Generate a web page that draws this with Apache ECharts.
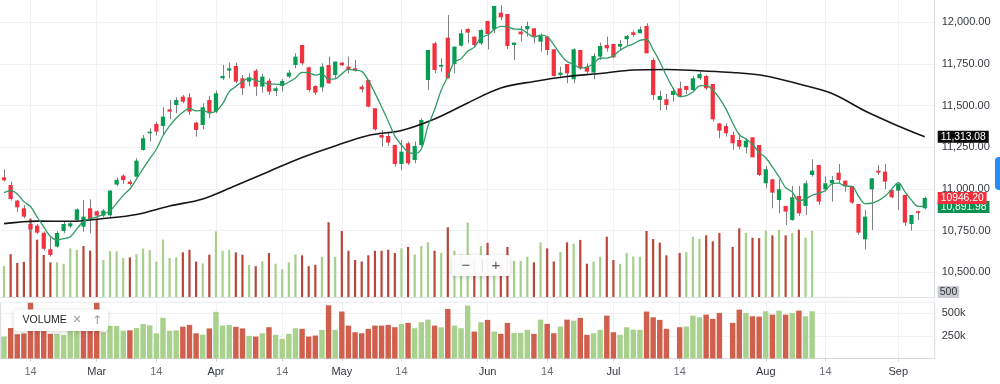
<!DOCTYPE html>
<html><head><meta charset="utf-8">
<script src="https://cdn.jsdelivr.net/npm/echarts@6/dist/echarts.min.js"></script>
<style>html,body{margin:0;padding:0;background:#fff}#c{width:1000px;height:384px}</style>
</head><body><div id="c"></div>
<script>
// ---- data ----
const opens = [11070,11024,10930,10884,10790,10780,10737,10638,10654,10748,
10776,10814,10774,10884,10866,10840,10842,11026,11080,11044,
11074,11234,11334,11390,11378,11478,11504,11554,11550,11398,
11384,11534,11464,11664,11710,11738,11664,11644,11710,11614,
11650,11588,11618,11674,11744,11864,11730,11618,11610,11744,
11684,11758,11734,11724,11614,11654,11484,11324,11318,11264,
11150,11274,11174,11264,11654,11874,11734,11908,11750,11860,
11960,11914,11874,12008,11958,12058,12050,11864,11944,11958,
11964,11884,11914,11838,11684,11750,11658,11834,11734,11698,
11794,11864,11870,11854,11898,11940,11934,11978,11774,11534,
11538,11564,11604,11618,11594,11664,11678,11630,11394,11378,
11324,11294,11250,11310,11264,11034,11058,10934,10898,10814,
10958,10898,11084,11144,10998,11034,11098,11050,11018,10910,
10698,10998,11110,11104,10994,10990,10964,10790,10866,10884];
const closes = [11052,10940,10890,10834,10757,10738,10641,10604,10736,10790,
10794,10878,10834,10814,10840,10870,10990,11055,11053,11030,
11170,11304,11344,11344,11434,11464,11534,11524,11464,11354,
11490,11454,11574,11678,11724,11644,11604,11670,11614,11674,
11584,11604,11648,11698,11794,11754,11594,11578,11734,11634,
11764,11742,11714,11710,11598,11494,11358,11308,11278,11150,
11224,11154,11258,11414,11834,11714,11744,11664,11854,11934,
11938,11864,11954,11930,12098,12030,11858,11878,11928,11978,
11914,11918,11834,11678,11698,11694,11838,11724,11704,11798,
11858,11844,11790,11870,11918,11924,11958,11814,11564,11558,
11504,11588,11558,11594,11664,11690,11604,11418,11350,11334,
11274,11254,11290,11190,11084,11118,10978,10998,10864,10950,
10854,11034,11110,10924,11034,11054,11054,11018,10918,10738,
10834,11064,11098,11044,10950,11030,10798,10844,10856,10946.20];
const lows = [11045,10930,10862,10824,10745,10730,10630,10594,10648,10734,
10764,10804,10744,10734,10826,10830,10830,11018,11030,11020,
11070,11230,11284,11320,11324,11418,11454,11514,11444,11314,
11358,11424,11454,11654,11664,11634,11564,11614,11558,11578,
11564,11558,11584,11664,11724,11744,11584,11564,11584,11630,
11664,11738,11694,11704,11578,11490,11350,11254,11258,11134,
11114,11144,11154,11254,11594,11694,11704,11664,11694,11854,
11874,11854,11864,11838,11934,12014,11840,11774,11884,11914,
11874,11824,11804,11674,11664,11634,11634,11714,11694,11658,
11774,11824,11784,11834,11864,11914,11934,11814,11534,11470,
11474,11524,11550,11570,11584,11654,11594,11404,11304,11314,
11234,11238,11214,11190,11078,11004,10884,10854,10784,10810,
10838,10844,11074,10904,10984,10924,11034,10984,10910,10724,
10638,10754,11084,10998,10944,10874,10778,10750,10814,10878];
const highs = [11118,11044,10935,10904,10800,10790,10745,10714,10748,10804,
10804,10884,10934,10938,10872,10880,10994,11070,11088,11055,
11184,11324,11364,11404,11490,11534,11550,11564,11574,11404,
11514,11558,11590,11744,11758,11758,11684,11694,11720,11690,
11664,11614,11660,11714,11814,11864,11734,11622,11754,11794,
11764,11762,11794,11774,11624,11654,11484,11354,11344,11264,
11294,11284,11284,11424,11834,11884,11784,12044,11854,11958,
11964,11914,11958,12008,12098,12104,12050,11878,11978,12004,
11964,11934,11918,11838,11734,11750,11844,11834,11754,11814,
11878,11914,11870,11894,11924,11950,11974,11994,11784,11590,
11570,11604,11644,11618,11678,11704,11684,11630,11394,11394,
11344,11334,11304,11310,11264,11138,11058,11058,10898,11018,
11018,11050,11178,11144,11074,11078,11150,11050,11018,10910,
10874,11064,11144,11150,10994,11030,10964,10844,10870,10954];
const volumes = [242000,336000,268000,276000,615000,450000,330000,272000,272000,260000,
382000,369000,400000,364000,615000,290000,360000,358000,306000,311000,
336000,380000,367000,278000,450000,306000,311000,351000,371000,278000,
263000,332000,515000,363000,370000,350000,332000,250000,242000,279000,
345000,261000,217000,272000,334000,327000,242000,253000,316000,587000,
316000,518000,363000,290000,279000,327000,363000,363000,371000,345000,
382000,393000,334000,400000,429000,363000,345000,547000,363000,334000,
584000,297000,400000,426000,297000,272000,393000,283000,283000,316000,
272000,429000,382000,279000,352000,429000,418000,448000,261000,279000,
316000,473000,290000,261000,345000,319000,316000,518000,455000,426000,
327000,null,345000,352000,473000,455000,484000,437000,503000,null,
393000,539000,503000,466000,462000,521000,484000,528000,484000,503000,
528000,466000,521000];
const volumeDir = "uddddddduu"+"uuddduuuud"+"uuuuuuuddd"+"uduuuddudu"+"duuuudddud"+
  "uddddddddd"+"uduuududuu"+"udududduuu"+"duddududdu"+"udduuuuddd"+
  "d-duuuddd-"+"dduddududu"+"duu";
// short moving average (5 closes); first points
const maShortHead = [10978, 10990, 10970, 10924];
// long moving average at these candle indices
const maLongIdx = [0,5,10,15,20,25,30,35,40,45,50,55,60,65,70,75,80,85,90,95,100,105,110,115,120,125,130,135,139];
const maLongVal = [10792,10807,10806,10823,10847,10898,10940,11021,11105,11189,11258,11321,11351,11420,11516,11606,11645,11675,11693,11714,11717,11709,11699,11678,11630,11573,11468,11378,11313.08];
const tickLabels = [[4,'14'],[14,'Mar'],[23,'14'],[32,'Apr'],[42,'14'],[51,'May'],[60,'14'],[73,'Jun'],[82,'14'],[92,'Jul'],[102,'14'],[115,'Aug'],[124,'14'],[135,'Sep']];
const priceTicks = [10500, 12250, 250]; // min, max, step
const lastMaShort = 10891.98;

// ---- derived ----
const N = opens.length;
const categories = Array.from({length: N + 1}, (_, i) => String(i));
const tickSet = new Set(tickLabels.map(t => t[0]));
const tickText = Object.fromEntries(tickLabels);
const maShort = closes.map((c, i) => i < 4 ? maShortHead[i] :
  +(closes.slice(i - 4, i + 1).reduce((a, b) => a + b, 0) / 5).toFixed(2));

const RED = '#f2323f', GREEN = '#089c52', WICK = '#808080';
const VRED = '#cf604e', VGREEN = '#a9d18e', ORED = '#b8473a', OGREEN = '#a6cf8b';
const FONT = 'Liberation Sans, Arial, Helvetica, sans-serif';
const GRIDC = '#eff1f3';

const candleData = opens.map((o, i) => [i, o, closes[i], lows[i], highs[i]]);
const volBottom = volumes.map((v, i) => v == null ? null :
  {value: v, itemStyle: {color: volumeDir[i] === 'u' ? VGREEN : VRED}});
const volOverlay = volumes.map((v, i) => v == null ? null :
  {value: v, itemStyle: {color: volumeDir[i] === 'u' ? OGREEN : ORED}});

const L = 0.69, W = (N + 1) * 6.624, R = 1000 - L - W;
const showTick = (idx) => tickSet.has(idx);

const chart = echarts.init(document.getElementById('c'), null, {renderer: 'canvas'});
const option = {
  animation: false,
  backgroundColor: '#fff',
  textStyle: {fontFamily: FONT},
  grid: [
    {left: L, width: W, top: -19.37, height: 291.67, outerBoundsMode: 'none'},
    {left: L, width: W, top: 0, height: 297, outerBoundsMode: 'none'},
    {left: L, width: W, top: 302.3, height: 56.2, outerBoundsMode: 'none', show: true, borderColor: '#d6dae0', borderWidth: 1}
  ],
  xAxis: [
    {type: 'category', gridIndex: 0, data: categories, boundaryGap: true, show: false},
    {type: 'category', gridIndex: 1, data: categories, boundaryGap: true,
      axisLine: {show: true, lineStyle: {color: '#dde1e6'}}, axisTick: {show: false}, axisLabel: {show: false},
      splitLine: {show: true, interval: showTick, alignWithLabel: true, lineStyle: {color: GRIDC}}},
    {type: 'category', gridIndex: 2, data: categories, boundaryGap: true,
      axisLine: {show: true, lineStyle: {color: '#d6dae0'}},
      axisTick: {show: true, interval: showTick, alignWithLabel: true, length: 3, lineStyle: {color: '#cfd3d8'}},
      axisLabel: {show: true, interval: showTick, margin: 8, fontSize: 11, fontFamily: FONT,
        formatter: (v, i) => {const t = tickText[i]; if (!t) return ''; return /\d/.test(t) ? '{d|' + t + '}' : '{m|' + t + '}';},
        rich: {d: {color: '#6b6f75', fontSize: 11, fontFamily: FONT}, m: {color: '#33373c', fontSize: 11, fontFamily: FONT}}},
      splitLine: {show: true, interval: showTick, alignWithLabel: true, lineStyle: {color: GRIDC}}}
  ],
  yAxis: [
    {type: 'value', gridIndex: 0, position: 'right', min: priceTicks[0], max: priceTicks[1], interval: priceTicks[2],
      axisLine: {show: false}, axisTick: {show: false}, showMaxLabel: false,
      axisLabel: {margin: 7, fontSize: 11, color: '#33373c', fontFamily: FONT,
        formatter: v => v >= priceTicks[1] ? '' : v.toLocaleString('en-US', {minimumFractionDigits: 2, maximumFractionDigits: 2})},
      splitLine: {show: true, lineStyle: {color: GRIDC}}},
    {type: 'value', gridIndex: 1, position: 'right', min: 0, max: 2331000,
      axisLine: {show: true, lineStyle: {color: '#d6dae0'}}, axisTick: {show: false}, axisLabel: {show: false}, splitLine: {show: false}},
    {type: 'value', gridIndex: 2, position: 'right', min: 0, max: 620000, interval: 250000,
      axisLine: {show: false}, axisTick: {show: false}, showMaxLabel: false,
      axisLabel: {margin: 7, fontSize: 11, color: '#33373c', fontFamily: FONT,
        formatter: v => (v === 250000 ? '250k' : v === 500000 ? '500k' : '')},
      splitLine: {show: true, lineStyle: {color: GRIDC}}}
  ],
  series: [
    {name: 'vol-overlay', type: 'bar', xAxisIndex: 1, yAxisIndex: 1, data: volOverlay, barWidth: 2.2, z: 1, silent: true},
    {name: 'price', type: 'custom', xAxisIndex: 0, yAxisIndex: 0, data: candleData, z: 3,
      encode: {x: 0, y: [1, 2, 3, 4]},
      renderItem: (params, api) => {
        const i = api.value(0), o = api.value(1), c = api.value(2), lo = api.value(3), hi = api.value(4);
        const pTop = api.coord([i, Math.max(o, c)]);
        const pBot = api.coord([i, Math.min(o, c)]);
        const pHi = api.coord([i, hi]);
        const pLo = api.coord([i, lo]);
        const bw = api.size([1, 0])[0] * 0.64;
        const xc = Math.round(pTop[0]) + 0.5;
        return {type: 'group', children: [
          {type: 'line', shape: {x1: xc, y1: pHi[1], x2: xc, y2: pLo[1]}, style: {stroke: WICK, lineWidth: 1}},
          {type: 'rect', shape: {x: pTop[0] - bw / 2, y: pTop[1], width: bw, height: Math.max(1.2, pBot[1] - pTop[1])},
            style: {fill: c >= o ? GREEN : RED}}
        ]};
      }},
    {name: 'ma-long', type: 'line', xAxisIndex: 0, yAxisIndex: 0, data: maLongIdx.map((ix, k) => [ix, maLongVal[k]]),
      smooth: 0.35, showSymbol: false, lineStyle: {color: '#161616', width: 1.6}, z: 4},
    {name: 'ma-short', type: 'line', xAxisIndex: 0, yAxisIndex: 0, data: maShort,
      smooth: 0.35, showSymbol: false, lineStyle: {color: '#2f9c66', width: 1.3}, z: 5},
    {name: 'volume', type: 'bar', xAxisIndex: 2, yAxisIndex: 2, data: volBottom, barWidth: '82%', z: 2}
  ]
};
chart.setOption(option);

const yOf = v => chart.convertToPixel({yAxisIndex: 0}, v);
const tag = (val, txt, bg, z) => ({type: 'text', x: 937.7, y: yOf(val), z: z,
  style: {text: txt, fill: '#fff', font: '10.3px ' + FONT, backgroundColor: bg, padding: [1, 3, 0, 3],
    lineHeight: 11, align: 'left', verticalAlign: 'middle'}});
chart.setOption({graphic: [
  tag(maLongVal[maLongVal.length - 1], maLongVal[maLongVal.length - 1].toLocaleString('en-US', {minimumFractionDigits: 2}), '#0b0b0b', 50),
  tag(lastMaShort, lastMaShort.toLocaleString('en-US', {minimumFractionDigits: 2}), '#0b9150', 51),
  tag(closes[N - 1], closes[N - 1].toFixed(2), '#f0303c', 52),
  {type: 'text', x: 937.7, y: 292, z: 50,
    style: {text: '500', fill: '#333', font: '10.5px ' + FONT, backgroundColor: '#c7cbd1', padding: [1, 2, 0, 2],
      lineHeight: 11, verticalAlign: 'middle', align: 'left'}},
  {type: 'rect', z: 50, shape: {x: 995, y: 157, width: 12, height: 33, r: 4}, style: {fill: '#2a8bf2'}},
  {type: 'group', z: 60, children: [
    {type: 'rect', z: 60, shape: {x: 452, y: 255, width: 58, height: 21, r: 3},
      style: {fill: 'rgba(255,255,255,0.95)', shadowBlur: 5, shadowColor: 'rgba(0,0,0,0.18)', shadowOffsetY: 1}},
    {type: 'line', z: 61, shape: {x1: 482.5, y1: 259, x2: 482.5, y2: 272}, style: {stroke: '#e2e4e8', lineWidth: 1}},
    {type: 'text', z: 61, x: 466, y: 265.5, style: {text: '\u2212', fill: '#555', font: '15px ' + FONT, align: 'center', verticalAlign: 'middle'}},
    {type: 'text', z: 61, x: 496, y: 265.5, style: {text: '+', fill: '#555', font: '15px ' + FONT, align: 'center', verticalAlign: 'middle'}}
  ]},
  {type: 'group', z: 60, children: [
    {type: 'rect', z: 60, shape: {x: 14, y: 309.5, width: 94, height: 21.5, r: 3},
      style: {fill: '#fff', shadowBlur: 5, shadowColor: 'rgba(0,0,0,0.18)', shadowOffsetY: 1}},
    {type: 'text', z: 61, x: 22.5, y: 320.5, style: {text: 'VOLUME', fill: '#1d1f22', font: '10.5px ' + FONT, align: 'left', verticalAlign: 'middle'}},
    {type: 'text', z: 61, x: 77, y: 320.5, style: {text: '\u2715', fill: '#9a9da2', font: '11px DejaVu Sans, sans-serif', align: 'center', verticalAlign: 'middle'}},
    {type: 'text', z: 61, x: 97, y: 320.5, style: {text: '\u2191', fill: '#9a9da2', font: '12px DejaVu Sans, sans-serif', align: 'center', verticalAlign: 'middle'}}
  ]}
]});
</script>
</body></html>
